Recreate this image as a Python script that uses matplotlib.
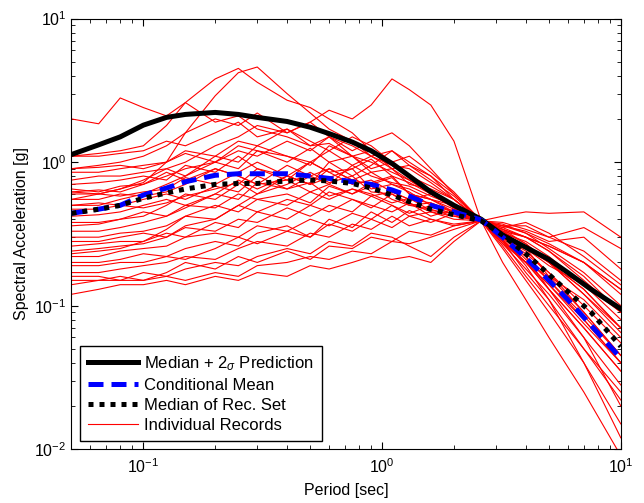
import numpy as np
import matplotlib
matplotlib.use('Agg')
import matplotlib.pyplot as plt

plt.rcParams['font.family'] = ['Liberation Sans', 'DejaVu Sans']
plt.rcParams['mathtext.fontset'] = 'custom'
plt.rcParams['mathtext.rm'] = 'Liberation Sans'
plt.rcParams['mathtext.it'] = 'Liberation Sans:italic'

# periods of the target spectra [sec]
T_pred = [0.05, 0.065, 0.08, 0.1, 0.125, 0.15, 0.2, 0.25, 0.3, 0.4, 0.5, 0.6, 0.75,
          0.9, 1.1, 1.3, 1.6, 2.0, 2.6, 3.2, 4.0, 5.0, 6.0, 7.5, 10.0]
sa_median_2sigma = [1.13, 1.32, 1.50, 1.81, 2.05, 2.15, 2.22, 2.15, 2.05, 1.92, 1.75, 1.58, 1.38,
                    1.20, 0.98, 0.80, 0.62, 0.50, 0.40, 0.31, 0.255, 0.21, 0.17, 0.13, 0.095]
sa_cond_mean = [0.44, 0.47, 0.50, 0.59, 0.66, 0.73, 0.81, 0.83, 0.83, 0.83, 0.80, 0.77, 0.73,
                0.70, 0.64, 0.58, 0.50, 0.45, 0.395, 0.30, 0.215, 0.15, 0.11, 0.073, 0.043]
sa_median_set = [0.44, 0.47, 0.50, 0.56, 0.61, 0.65, 0.70, 0.71, 0.71, 0.74, 0.75, 0.74, 0.71,
                 0.66, 0.59, 0.53, 0.47, 0.43, 0.39, 0.31, 0.23, 0.165, 0.125, 0.09, 0.052]

# periods of the individual record spectra [sec]
T_rec = [0.05, 0.065, 0.08, 0.1, 0.125, 0.15, 0.2, 0.25, 0.3, 0.4, 0.5, 0.6, 0.75, 0.9,
         1.1, 1.3, 1.6, 2.0, 2.6, 3.2, 4.0, 5.0, 7.0, 10.0]
records = [
    [2.0, 1.85, 2.8, 2.4, 2.1, 2.6, 1.9, 2.1, 1.7, 1.5, 1.3, 1.35, 1.1, 1.0, 0.85, 0.75, 0.6, 0.5, 0.39, 0.28, 0.2, 0.13, 0.07, 0.035],
    [1.1, 1.15, 1.2, 1.3, 1.8, 2.6, 3.8, 4.5, 3.6, 2.7, 2.4, 2.0, 1.6, 1.2, 0.9, 0.75, 0.62, 0.5, 0.39, 0.3, 0.21, 0.15, 0.08, 0.04],
    [0.62, 0.6, 0.65, 0.72, 1.0, 1.6, 2.9, 4.2, 4.6, 3.0, 2.2, 1.7, 1.4, 1.1, 0.95, 0.8, 0.6, 0.48, 0.39, 0.27, 0.18, 0.12, 0.06, 0.028],
    [0.55, 0.6, 0.65, 0.75, 0.9, 1.0, 1.3, 1.5, 1.8, 1.6, 1.9, 2.3, 2.0, 2.5, 3.8, 3.2, 2.5, 1.4, 0.39, 0.2, 0.11, 0.06, 0.025, 0.009],
    [0.9, 0.95, 1.0, 1.1, 1.3, 1.6, 2.0, 1.8, 2.2, 1.6, 1.9, 1.5, 1.3, 1.1, 1.2, 0.95, 0.8, 0.6, 0.39, 0.32, 0.26, 0.2, 0.12, 0.07],
    [0.85, 0.85, 0.9, 0.95, 1.0, 1.2, 1.1, 1.4, 1.3, 1.7, 1.4, 1.2, 1.5, 1.3, 1.0, 1.1, 0.85, 0.62, 0.39, 0.3, 0.25, 0.19, 0.14, 0.09],
    [0.75, 0.8, 0.8, 0.85, 0.9, 0.8, 1.0, 0.9, 1.2, 1.1, 0.95, 1.3, 1.1, 0.85, 0.9, 0.7, 0.65, 0.55, 0.39, 0.33, 0.3, 0.26, 0.2, 0.13],
    [0.7, 0.72, 0.75, 0.8, 0.75, 0.95, 0.85, 1.1, 0.9, 0.8, 1.0, 0.85, 0.9, 1.05, 0.8, 0.72, 0.6, 0.5, 0.39, 0.35, 0.38, 0.32, 0.22, 0.14],
    [0.65, 0.62, 0.68, 0.7, 0.85, 0.75, 0.9, 0.8, 0.7, 0.95, 0.8, 0.9, 0.75, 0.7, 0.78, 0.6, 0.55, 0.47, 0.39, 0.3, 0.24, 0.17, 0.1, 0.055],
    [0.6, 0.6, 0.58, 0.62, 0.65, 0.78, 0.7, 0.85, 1.0, 0.8, 0.7, 0.78, 0.9, 0.65, 0.7, 0.62, 0.5, 0.45, 0.39, 0.36, 0.33, 0.28, 0.3, 0.18],
    [0.55, 0.55, 0.6, 0.58, 0.62, 0.7, 0.9, 0.8, 0.7, 0.75, 0.62, 0.7, 0.6, 0.68, 0.55, 0.5, 0.52, 0.45, 0.39, 0.31, 0.25, 0.16, 0.09, 0.045],
    [0.5, 0.52, 0.5, 0.55, 0.6, 0.55, 0.68, 0.62, 0.8, 0.65, 0.72, 0.58, 0.65, 0.6, 0.52, 0.56, 0.46, 0.44, 0.39, 0.34, 0.3, 0.24, 0.15, 0.09],
    [0.47, 0.47, 0.5, 0.48, 0.52, 0.58, 0.65, 0.72, 0.6, 0.7, 0.85, 0.72, 0.8, 0.62, 0.6, 0.5, 0.47, 0.42, 0.39, 0.29, 0.2, 0.14, 0.075, 0.04],
    [0.42, 0.43, 0.45, 0.5, 0.55, 0.5, 0.6, 0.75, 0.65, 0.8, 0.7, 0.9, 0.75, 0.85, 0.7, 0.65, 0.55, 0.5, 0.39, 0.28, 0.17, 0.11, 0.05, 0.022],
    [0.38, 0.38, 0.4, 0.42, 0.5, 0.6, 0.55, 0.7, 0.9, 0.75, 1.0, 0.85, 0.7, 0.75, 0.62, 0.55, 0.6, 0.48, 0.39, 0.27, 0.2, 0.16, 0.11, 0.06],
    [0.33, 0.33, 0.35, 0.38, 0.42, 0.48, 0.6, 0.55, 0.72, 0.65, 0.8, 0.7, 0.95, 0.8, 0.72, 0.68, 0.58, 0.5, 0.39, 0.3, 0.22, 0.15, 0.085, 0.045],
    [0.3, 0.3, 0.32, 0.33, 0.36, 0.42, 0.5, 0.45, 0.55, 0.6, 0.52, 0.68, 0.6, 0.72, 0.8, 0.6, 0.55, 0.45, 0.39, 0.33, 0.27, 0.2, 0.12, 0.065],
    [0.28, 0.28, 0.3, 0.32, 0.3, 0.36, 0.4, 0.5, 0.45, 0.55, 0.5, 0.62, 0.55, 0.48, 0.6, 0.52, 0.45, 0.42, 0.39, 0.37, 0.32, 0.25, 0.17, 0.1],
    [0.26, 0.27, 0.28, 0.28, 0.32, 0.3, 0.38, 0.35, 0.45, 0.4, 0.5, 0.45, 0.55, 0.5, 0.45, 0.52, 0.42, 0.47, 0.39, 0.32, 0.28, 0.22, 0.14, 0.08],
    [0.24, 0.25, 0.26, 0.27, 0.3, 0.35, 0.33, 0.4, 0.38, 0.48, 0.42, 0.5, 0.45, 0.58, 0.5, 0.44, 0.5, 0.43, 0.39, 0.36, 0.36, 0.3, 0.24, 0.15],
    [0.22, 0.22, 0.24, 0.25, 0.26, 0.3, 0.32, 0.3, 0.36, 0.33, 0.4, 0.36, 0.44, 0.4, 0.5, 0.42, 0.38, 0.44, 0.39, 0.34, 0.3, 0.26, 0.2, 0.13],
    [0.2, 0.2, 0.21, 0.23, 0.22, 0.25, 0.28, 0.26, 0.32, 0.36, 0.3, 0.4, 0.35, 0.45, 0.38, 0.46, 0.4, 0.36, 0.39, 0.38, 0.34, 0.3, 0.35, 0.25],
    [0.19, 0.19, 0.2, 0.2, 0.22, 0.21, 0.25, 0.3, 0.27, 0.33, 0.3, 0.37, 0.33, 0.4, 0.35, 0.42, 0.45, 0.4, 0.39, 0.42, 0.45, 0.44, 0.45, 0.3],
    [0.17, 0.17, 0.18, 0.19, 0.2, 0.22, 0.21, 0.25, 0.28, 0.26, 0.32, 0.3, 0.37, 0.34, 0.42, 0.36, 0.4, 0.37, 0.39, 0.33, 0.25, 0.2, 0.13, 0.07],
    [0.16, 0.16, 0.15, 0.17, 0.16, 0.18, 0.2, 0.19, 0.22, 0.25, 0.23, 0.28, 0.26, 0.32, 0.3, 0.26, 0.22, 0.3, 0.39, 0.3, 0.22, 0.13, 0.06, 0.02],
    [0.14, 0.15, 0.15, 0.15, 0.16, 0.15, 0.17, 0.16, 0.19, 0.2, 0.22, 0.21, 0.24, 0.23, 0.28, 0.27, 0.3, 0.34, 0.39, 0.36, 0.32, 0.27, 0.2, 0.12],
    [0.12, 0.13, 0.14, 0.14, 0.15, 0.14, 0.16, 0.15, 0.17, 0.16, 0.19, 0.18, 0.2, 0.22, 0.21, 0.22, 0.2, 0.28, 0.39, 0.35, 0.3, 0.24, 0.16, 0.09],
    [0.15, 0.15, 0.16, 0.15, 0.17, 0.2, 0.18, 0.22, 0.2, 0.24, 0.21, 0.26, 0.25, 0.3, 0.28, 0.33, 0.31, 0.36, 0.39, 0.29, 0.19, 0.11, 0.04, 0.012],
    [1.1, 1.1, 1.15, 1.2, 1.4, 1.3, 1.6, 1.9, 1.5, 1.7, 1.3, 1.5, 1.1, 1.2, 0.95, 0.9, 0.72, 0.55, 0.39, 0.26, 0.16, 0.1, 0.05, 0.025],
    [0.9, 0.92, 0.95, 0.9, 1.0, 1.15, 1.0, 1.3, 1.2, 1.0, 1.25, 1.0, 1.1, 0.9, 1.0, 0.8, 0.68, 0.55, 0.39, 0.28, 0.2, 0.13, 0.07, 0.035],
    [0.62, 0.64, 0.62, 0.7, 0.8, 0.9, 1.0, 1.2, 1.1, 1.4, 1.2, 1.5, 1.2, 1.4, 1.6, 1.3, 0.9, 0.6, 0.39, 0.25, 0.15, 0.09, 0.04, 0.015],
    [0.5, 0.5, 0.55, 0.6, 0.7, 0.8, 1.1, 1.0, 1.3, 1.1, 1.0, 1.2, 0.95, 1.1, 0.9, 0.95, 0.75, 0.58, 0.39, 0.3, 0.23, 0.17, 0.09, 0.045],
    [0.36, 0.37, 0.4, 0.45, 0.42, 0.5, 0.48, 0.6, 0.55, 0.5, 0.62, 0.55, 0.65, 0.58, 0.62, 0.55, 0.52, 0.45, 0.39, 0.34, 0.27, 0.2, 0.13, 0.07],
    [0.23, 0.24, 0.25, 0.28, 0.34, 0.42, 0.4, 0.5, 0.6, 0.8, 0.7, 1.0, 0.8, 0.95, 1.2, 1.0, 0.8, 0.55, 0.39, 0.28, 0.2, 0.14, 0.08, 0.04],
]

fig = plt.figure(figsize=(6.44, 5.03), dpi=100)
ax = fig.add_axes([0.111, 0.107, 0.853, 0.856])

for i, rec in enumerate(records):
    ax.loglog(T_rec, rec, '-', color='r', lw=0.8, zorder=2)
h_rec = ax.get_lines()[0]
h1, = ax.loglog(T_pred, sa_median_2sigma, '-k', lw=3.6, zorder=3)
h2, = ax.loglog(T_pred, sa_cond_mean, '--', color='b', lw=3.6, dashes=(3, 1.6), zorder=4)
h3, = ax.loglog(T_pred, sa_median_set, ':k', lw=3.6, dashes=(1, 1.2), zorder=5)

ax.set_xlim(0.05, 10)
ax.set_ylim(1e-2, 1e1)
ax.tick_params(which='both', direction='in', top=True, right=True, labelsize=11.5)
ax.tick_params(axis='x', pad=6)
ax.tick_params(which='major', length=5)
ax.tick_params(which='minor', length=3)
ax.set_xlabel('Period [sec]', fontsize=11.5, labelpad=5)
ax.set_ylabel('Spectral Acceleration [g]', fontsize=11.5)

leg = ax.legend([h1, h2, h3, h_rec],
                [r'Median + 2$_\sigma$ Prediction', 'Conditional Mean',
                 'Median of Rec. Set', 'Individual Records'],
                loc='lower left', bbox_to_anchor=(0.0155, 0.0186), borderaxespad=0,
                fontsize=12, handlelength=3.0, fancybox=False, framealpha=1,
                edgecolor='k', borderpad=0.5, labelspacing=0.3, handletextpad=0.35)
leg.get_frame().set_linewidth(1.0)

plt.savefig('out.png', dpi=100)
plt.close()
